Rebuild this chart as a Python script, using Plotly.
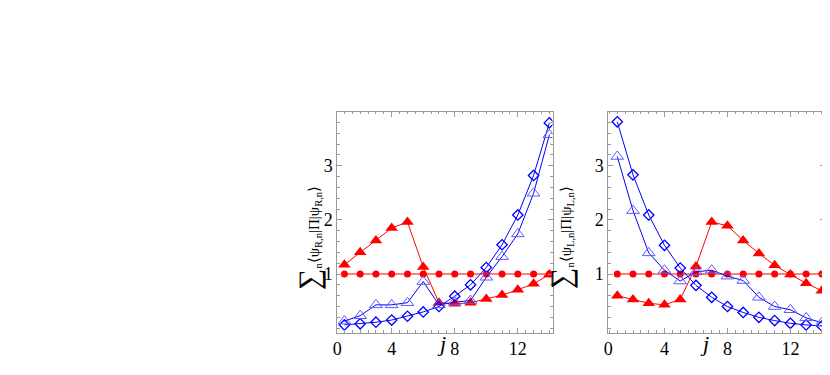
import plotly.graph_objects as go

# site index j
j = list(range(1, 15))

# left panel: sum_n <psi_R,n|Pi|psi_R,n>
right_circ = [1.0] * 14
right_tri_red = [1.17, 1.40, 1.62, 1.85, 1.96, 1.13, 0.47, 0.45, 0.47, 0.54, 0.61, 0.71, 0.82, 0.99]
right_diam = [0.06, 0.08, 0.11, 0.15, 0.22, 0.30, 0.40, 0.59, 0.80, 1.12, 1.54, 2.09, 2.82, 3.79]
right_tri_blue = [0.13, 0.23, 0.43, 0.43, 0.47, 0.86, 0.43, 0.48, 0.51, 0.94, 1.32, 1.74, 2.49, 3.57]

# right panel: sum_n <psi_L,n|Pi|psi_L,n>
left_circ = [1.0] * 14
left_tri_red = [0.60, 0.53, 0.46, 0.43, 0.53, 1.14, 1.96, 1.89, 1.62, 1.38, 1.16, 0.99, 0.83, 0.69]
left_diam = [3.81, 2.83, 2.09, 1.53, 1.11, 0.79, 0.57, 0.40, 0.29, 0.20, 0.14, 0.09, 0.06, 0.04]
left_tri_blue = [3.17, 2.17, 1.39, 1.07, 0.87, 1.04, 1.07, 0.96, 0.88, 0.57, 0.40, 0.34, 0.19, 0.10]

x_ticks = ["0", "4", "8", "12"]
y_ticks = ["1", "2", "3"]

RED = "#ff0000"
BLUE = "#0000ff"
FONT = "Liberation Serif"

W, H = 830, 375
OFF = 8  # the page body adds an 8px margin


def px(x):
    return (x - OFF) / W


def py(y):
    return 1 - (y - OFF) / H


fig = go.Figure()


def add_panel(fig, xa, ya, circ, tri_red, diam, tri_blue):
    fig.add_trace(go.Scatter(x=j, y=circ, xaxis=xa, yaxis=ya, mode="lines+markers",
                             line=dict(color=RED, width=1.2),
                             marker=dict(symbol="circle", size=7, color=RED)))
    fig.add_trace(go.Scatter(x=j, y=tri_red, xaxis=xa, yaxis=ya, mode="lines+markers",
                             line=dict(color=RED, width=1),
                             marker=dict(symbol="triangle-up", size=11, color=RED)))
    fig.add_trace(go.Scatter(x=j, y=diam, xaxis=xa, yaxis=ya, mode="lines+markers",
                             line=dict(color=BLUE, width=1),
                             marker=dict(symbol="diamond-open", size=8, color=BLUE,
                                         line=dict(width=1.3))))
    fig.add_trace(go.Scatter(x=j, y=tri_blue, xaxis=xa, yaxis=ya, mode="lines+markers",
                             line=dict(color=BLUE, width=1),
                             marker=dict(symbol="triangle-up-open", size=11, color="#5a5aff",
                                         line=dict(width=1))))


add_panel(fig, "x", "y", right_circ, right_tri_red, right_diam, right_tri_blue)
add_panel(fig, "x2", "y2", left_circ, left_tri_red, left_diam, left_tri_blue)

frame = dict(showline=True, linecolor="#999999", linewidth=1, mirror="ticks",
             ticks="inside", ticklen=5, tickcolor="#999999", showgrid=False,
             zeroline=False, automargin=False,
             tickfont=dict(family=FONT, size=18, color="black"))
minor_x = dict(dtick=0.5, tick0=0, ticklen=2.5, ticks="inside", tickcolor="#999999")
minor_y = dict(dtick=0.2, tick0=0, ticklen=2.5, ticks="inside", tickcolor="#999999")

xr_left = [0.55, 14.2]
xr_right = [0.43, 14.2]
yr = [-0.08, 4.0]
ydom = [py(332.5), py(111.5)]

fig.update_layout(
    width=W, height=H,
    margin=dict(l=0, r=0, t=0, b=0, autoexpand=False),
    paper_bgcolor="white", plot_bgcolor="white",
    showlegend=False,
    font=dict(family=FONT, color="black"),
    xaxis=dict(domain=[px(337.3), px(552.5)], range=xr_left,
               tickvals=[xr_left[0], 4, 8, 12], ticktext=x_ticks,
               minor=minor_x, anchor="y", **frame),
    yaxis=dict(domain=ydom, range=yr, tickvals=[1, 2, 3], ticktext=y_ticks,
               minor=minor_y, anchor="x", **frame),
    xaxis2=dict(domain=[px(608.3), px(825)], range=xr_right,
                tickvals=[xr_right[0], 4, 8, 12], ticktext=x_ticks,
                minor=minor_x, anchor="y2", **frame),
    yaxis2=dict(domain=ydom, range=yr, tickvals=[1, 2, 3], ticktext=y_ticks,
                minor=minor_y, anchor="x2", **frame),
)

# axis titles as annotations so that they sit where the reference has them
for xp in [441, 711]:
    fig.add_annotation(text="<i>j</i>", x=px(xp), y=py(358), xref="paper", yref="paper",
                       showarrow=False, font=dict(family=FONT, size=22, color="black"))

lab_R = ("<span style='font-size:30px'>∑</span><sub>n</sub>"
         "⟨ψ<sub>R,n</sub>|Π|ψ<sub>R,n</sub>⟩")
lab_L = ("<span style='font-size:30px'>∑</span><sub>n</sub>"
         "⟨ψ<sub>L,n</sub>|Π|ψ<sub>L,n</sub>⟩")
for lab, xp in [(lab_R, 309), (lab_L, 580)]:
    fig.add_annotation(text=lab, x=px(xp), y=py(238), xref="paper", yref="paper",
                       showarrow=False, textangle=-90,
                       font=dict(family=FONT, size=15, color="black"))

fig.write_html("out.html")
